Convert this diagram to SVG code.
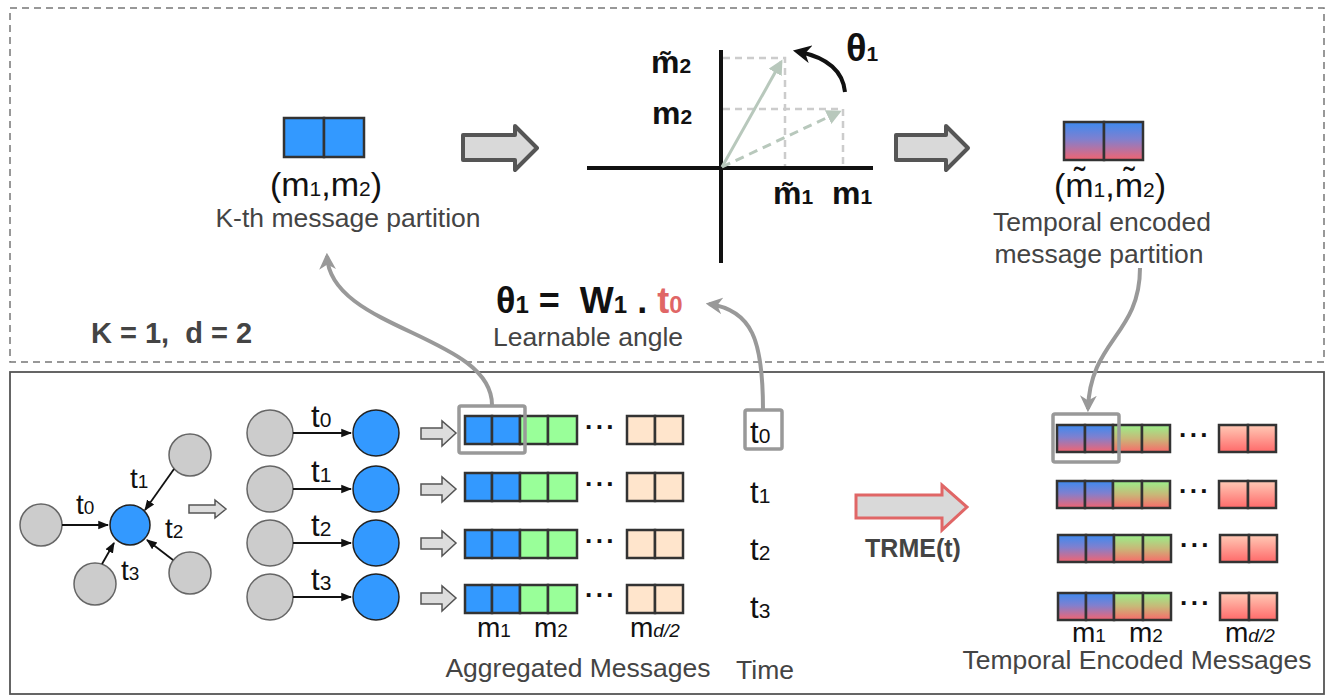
<svg xmlns="http://www.w3.org/2000/svg" width="1332" height="700" viewBox="0 0 1332 700">
<defs>
<linearGradient id="gBlue" x1="0" y1="0" x2="0" y2="1"><stop offset="0" stop-color="#3d8af0"/><stop offset="0.45" stop-color="#7f80cf"/><stop offset="1" stop-color="#f36470"/></linearGradient>
<linearGradient id="gGreen" x1="0" y1="0" x2="0" y2="1"><stop offset="0" stop-color="#99f08a"/><stop offset="0.5" stop-color="#c8b878"/><stop offset="1" stop-color="#f86a6a"/></linearGradient>
<linearGradient id="gRed" x1="0" y1="0" x2="0" y2="1"><stop offset="0" stop-color="#ffcab6"/><stop offset="1" stop-color="#ff6a6a"/></linearGradient>
<marker id="ahGray" viewBox="0 0 10 10" refX="8" refY="5" markerWidth="4.2" markerHeight="4.2" orient="auto-start-reverse"><path d="M0,0 L10,5 L0,10 L3,5 z" fill="#999"/></marker>
<marker id="ahBlack" viewBox="0 0 10 10" refX="9" refY="5" markerWidth="6" markerHeight="6" orient="auto"><path d="M0,1 L10,5 L0,9 z" fill="#111"/></marker>
<marker id="ahCurve" viewBox="0 0 10 10" refX="6" refY="5" markerWidth="4.5" markerHeight="4.5" orient="auto"><path d="M0,0 L10,5 L0,10 L3,5 z" fill="#111"/></marker>
<marker id="ahVec" viewBox="0 0 10 10" refX="8" refY="5" markerWidth="5" markerHeight="5" orient="auto"><path d="M0,0 L10,5 L0,10 z" fill="#b8c8bc"/></marker>
</defs>
<style>
text{font-family:"Liberation Sans",Arial,sans-serif}
.lbl{fill:#444;font-size:26.5px}
.math{fill:#111;font-size:34px}
.bm{fill:#111;font-size:32px;font-weight:bold}
.t{fill:#111;font-size:28px}
.tt{fill:#111;font-size:31px}
.s{font-size:19px}
.ss{font-size:21px}
.sb{font-size:21px}
.cell{stroke:#333;stroke-width:2.5}
.blue{fill:#3399ff}
.green{fill:#99ff99}
.peach{fill:#ffe5cc}
.gn{fill:#cccccc;stroke:#666;stroke-width:1.5}
.bn{fill:#3399ff;stroke:#222;stroke-width:1.5}
.edge{stroke:#111;stroke-width:1.8;fill:none;marker-end:url(#ahBlack)}
.gline{stroke:#999;stroke-width:4;fill:none}
.hl{fill:none;stroke:#999;stroke-width:3.5}
.bigarrow{fill:#d9d9d9;stroke:#555;stroke-width:4;stroke-linejoin:round}
.smallarrow{fill:#dddddd;stroke:#555;stroke-width:1.5}
.dash{stroke:#ccc;stroke-width:2.5;stroke-dasharray:7 5;fill:none}
.dots{fill:#111;font-size:26px;font-weight:bold;letter-spacing:2px}
</style>

<g id="frames">
<rect x="10" y="8" width="1314" height="354" fill="none" stroke="#777" stroke-width="1.5" stroke-dasharray="7 5"/>
<rect x="10" y="372" width="1314" height="322" fill="none" stroke="#555" stroke-width="1.8"/>
</g>

<g id="kth-partition">
<rect class="cell blue" x="284" y="118" width="40" height="39"/>
<rect class="cell blue" x="324" y="118" width="40" height="39"/>
<text x="326" y="196" text-anchor="middle" class="math">(m<tspan class="sb">1</tspan>,m<tspan class="sb">2</tspan>)</text>
<text x="348" y="227" text-anchor="middle" class="lbl">K-th message partition</text>
</g>

<g id="arrow-top-1"><polygon class="bigarrow" points="463,135 515,135 515,126 537,148 515,170 515,160 463,160"/></g>
<g id="arrow-top-2"><polygon class="bigarrow" points="896,135 946,135 946,126 968,148 946,170 946,160 896,160"/></g>

<g id="rotation-plot">
<line x1="587" y1="168" x2="873" y2="168" stroke="#111" stroke-width="4"/>
<line x1="721" y1="50" x2="721" y2="263" stroke="#111" stroke-width="4"/>
<path class="dash" d="M723 58 H785 V166 M723 109 H843 V166"/>
<line x1="722" y1="167" x2="781" y2="62" stroke="#b8c8bc" stroke-width="3" marker-end="url(#ahVec)"/>
<line x1="722" y1="167" x2="839" y2="112" stroke="#b8c8bc" stroke-width="3" stroke-dasharray="9 6" marker-end="url(#ahVec)"/>
<path d="M845 92 C843 72 828 58 800 52" stroke="#111" stroke-width="4" fill="none" marker-end="url(#ahCurve)"/>
<text x="846" y="61" class="bm" style="font-size:38px">θ<tspan class="sb">1</tspan></text>
<text x="651" y="73" class="bm">m̃<tspan class="sb">2</tspan></text>
<text x="652" y="124" class="bm">m<tspan class="sb">2</tspan></text>
<text x="773" y="204" class="bm">m̃<tspan class="sb">1</tspan></text>
<text x="832" y="204" class="bm">m<tspan class="sb">1</tspan></text>
</g>

<g id="encoded-partition">
<rect class="cell" fill="url(#gBlue)" x="1064" y="122" width="40" height="38"/>
<rect class="cell" fill="url(#gBlue)" x="1104" y="122" width="39" height="38"/>
<text x="1110" y="197" text-anchor="middle" class="math">(m̃<tspan class="sb">1</tspan>,m̃<tspan class="sb">2</tspan>)</text>
<text x="1102" y="231" text-anchor="middle" class="lbl">Temporal encoded</text>
<text x="1099" y="263" text-anchor="middle" class="lbl">message partition</text>
</g>

<g id="formula">
<text x="496" y="313" class="bm" style="font-size:36px" xml:space="preserve">θ<tspan style="font-size:24px">1</tspan> =  W<tspan style="font-size:24px">1</tspan> . <tspan fill="#e06666">t<tspan style="font-size:24px">0</tspan></tspan></text>
<text x="588" y="346" text-anchor="middle" class="lbl">Learnable angle</text>
</g>

<g id="params"><text x="91" y="343" fill="#444" style="font-size:29px;font-weight:bold" xml:space="preserve">K = 1,  d = 2</text></g>

<g id="input-graph">
<circle class="gn" cx="41" cy="525" r="21"/>
<circle class="gn" cx="190" cy="455" r="21"/>
<circle class="gn" cx="190" cy="573" r="21"/>
<circle class="gn" cx="95" cy="584" r="21"/>
<circle class="bn" cx="130" cy="525" r="20"/>
<line class="edge" x1="62" y1="525" x2="108" y2="525"/>
<line class="edge" x1="174" y1="469" x2="145" y2="510"/>
<line class="edge" x1="173" y1="560" x2="147" y2="540"/>
<line class="edge" x1="102" y1="564" x2="114" y2="543"/>
<text x="76" y="514" class="t">t<tspan class="s">0</tspan></text>
<text x="130" y="488" class="t">t<tspan class="s">1</tspan></text>
<text x="165" y="538" class="t">t<tspan class="s">2</tspan></text>
<text x="121" y="580" class="t">t<tspan class="s">3</tspan></text>
<polygon class="smallarrow" stroke-width="2" points="189,505 215,505 215,500 226,509 215,518 215,513 189,513"/>
</g>

<g id="edge-rows">
<circle class="gn" cx="270" cy="433" r="23"/><circle class="bn" cx="376" cy="433" r="23"/><line class="edge" x1="293" y1="433" x2="351" y2="433"/><text x="311" y="427" class="tt">t<tspan class="ss">0</tspan></text>
<circle class="gn" cx="270" cy="489" r="23"/><circle class="bn" cx="376" cy="489" r="23"/><line class="edge" x1="293" y1="489" x2="351" y2="489"/><text x="311" y="482" class="tt">t<tspan class="ss">1</tspan></text>
<circle class="gn" cx="270" cy="543" r="23"/><circle class="bn" cx="376" cy="543" r="23"/><line class="edge" x1="293" y1="543" x2="351" y2="543"/><text x="311" y="536" class="tt">t<tspan class="ss">2</tspan></text>
<circle class="gn" cx="270" cy="597" r="23"/><circle class="bn" cx="376" cy="597" r="23"/><line class="edge" x1="293" y1="597" x2="351" y2="597"/><text x="311" y="590" class="tt">t<tspan class="ss">3</tspan></text>
<polygon class="smallarrow" points="421,428 442,428 442,421 456,433 442,446 442,439 421,439"/>
<polygon class="smallarrow" points="421,484 442,484 442,477 456,489 442,502 442,495 421,495"/>
<polygon class="smallarrow" points="421,538 442,538 442,531 456,543 442,556 442,549 421,549"/>
<polygon class="smallarrow" points="421,593 442,593 442,586 456,598 442,611 442,604 421,604"/>
</g>

<g id="aggregated-messages">
<g>
<rect class="cell blue" x="465" y="416" width="27" height="28"/><rect class="cell blue" x="492" y="416" width="28" height="28"/>
<rect class="cell green" x="520" y="416" width="28" height="28"/><rect class="cell green" x="548" y="416" width="29" height="28"/>
<text x="601" y="436" text-anchor="middle" class="dots">···</text>
<rect class="cell peach" x="627" y="416" width="28" height="28"/><rect class="cell peach" x="655" y="416" width="28" height="28"/>
</g>
<g>
<rect class="cell blue" x="465" y="473" width="27" height="28"/><rect class="cell blue" x="492" y="473" width="28" height="28"/>
<rect class="cell green" x="520" y="473" width="28" height="28"/><rect class="cell green" x="548" y="473" width="29" height="28"/>
<text x="601" y="493" text-anchor="middle" class="dots">···</text>
<rect class="cell peach" x="627" y="473" width="28" height="28"/><rect class="cell peach" x="655" y="473" width="28" height="28"/>
</g>
<g>
<rect class="cell blue" x="465" y="530" width="27" height="28"/><rect class="cell blue" x="492" y="530" width="28" height="28"/>
<rect class="cell green" x="520" y="530" width="28" height="28"/><rect class="cell green" x="548" y="530" width="29" height="28"/>
<text x="601" y="550" text-anchor="middle" class="dots">···</text>
<rect class="cell peach" x="627" y="530" width="28" height="28"/><rect class="cell peach" x="655" y="530" width="28" height="28"/>
</g>
<g>
<rect class="cell blue" x="465" y="585" width="27" height="28"/><rect class="cell blue" x="492" y="585" width="28" height="28"/>
<rect class="cell green" x="520" y="585" width="28" height="28"/><rect class="cell green" x="548" y="585" width="29" height="28"/>
<text x="601" y="604" text-anchor="middle" class="dots">···</text>
<rect class="cell peach" x="627" y="585" width="28" height="28"/><rect class="cell peach" x="655" y="585" width="28" height="28"/>
</g>
<rect class="hl" x="459" y="406" width="66" height="47" rx="2"/>
<text x="477" y="637" class="t">m<tspan class="s">1</tspan></text>
<text x="534" y="637" class="t">m<tspan class="s">2</tspan></text>
<text x="630" y="637" class="t">m<tspan class="s" font-style="italic">d/2</tspan></text>
<text x="578" y="677" text-anchor="middle" class="lbl">Aggregated Messages</text>
</g>

<g id="time">
<rect class="hl" x="745" y="410" width="37" height="39" rx="2"/>
<text x="750" y="443" class="tt">t<tspan class="ss">0</tspan></text>
<text x="750" y="503" class="tt">t<tspan class="ss">1</tspan></text>
<text x="750" y="560" class="tt">t<tspan class="ss">2</tspan></text>
<text x="750" y="618" class="tt">t<tspan class="ss">3</tspan></text>
<text x="765" y="679" text-anchor="middle" class="lbl">Time</text>
</g>

<g id="trme">
<polygon points="856,495 942,495 942,485 967,507 942,530 942,518 856,518" fill="#d9d9d9" stroke="#e06666" stroke-width="3"/>
<text x="913" y="557" text-anchor="middle" fill="#444" style="font-size:25px;font-weight:bold">TRME(t)</text>
</g>

<g id="encoded-messages">
<g>
<rect class="cell" fill="url(#gBlue)" x="1057" y="425" width="28" height="27"/><rect class="cell" fill="url(#gBlue)" x="1085" y="425" width="28" height="27"/>
<rect class="cell" fill="url(#gGreen)" x="1113" y="425" width="29" height="27"/><rect class="cell" fill="url(#gGreen)" x="1142" y="425" width="28" height="27"/>
<text x="1195" y="444" text-anchor="middle" class="dots">···</text>
<rect class="cell" fill="url(#gRed)" x="1219" y="425" width="29" height="27"/><rect class="cell" fill="url(#gRed)" x="1248" y="425" width="28" height="27"/>
</g>
<g>
<rect class="cell" fill="url(#gBlue)" x="1057" y="481" width="28" height="27"/><rect class="cell" fill="url(#gBlue)" x="1085" y="481" width="28" height="27"/>
<rect class="cell" fill="url(#gGreen)" x="1113" y="481" width="29" height="27"/><rect class="cell" fill="url(#gGreen)" x="1142" y="481" width="28" height="27"/>
<text x="1195" y="500" text-anchor="middle" class="dots">···</text>
<rect class="cell" fill="url(#gRed)" x="1219" y="481" width="29" height="27"/><rect class="cell" fill="url(#gRed)" x="1248" y="481" width="28" height="27"/>
</g>
<g>
<rect class="cell" fill="url(#gBlue)" x="1058" y="535" width="28" height="27"/><rect class="cell" fill="url(#gBlue)" x="1086" y="535" width="28" height="27"/>
<rect class="cell" fill="url(#gGreen)" x="1114" y="535" width="29" height="27"/><rect class="cell" fill="url(#gGreen)" x="1143" y="535" width="28" height="27"/>
<text x="1196" y="554" text-anchor="middle" class="dots">···</text>
<rect class="cell" fill="url(#gRed)" x="1220" y="535" width="29" height="27"/><rect class="cell" fill="url(#gRed)" x="1249" y="535" width="28" height="27"/>
</g>
<g>
<rect class="cell" fill="url(#gBlue)" x="1058" y="593" width="28" height="27"/><rect class="cell" fill="url(#gBlue)" x="1086" y="593" width="28" height="27"/>
<rect class="cell" fill="url(#gGreen)" x="1114" y="593" width="29" height="27"/><rect class="cell" fill="url(#gGreen)" x="1143" y="593" width="28" height="27"/>
<text x="1196" y="612" text-anchor="middle" class="dots">···</text>
<rect class="cell" fill="url(#gRed)" x="1220" y="593" width="29" height="27"/><rect class="cell" fill="url(#gRed)" x="1249" y="593" width="28" height="27"/>
</g>
<rect class="hl" x="1053" y="414" width="66" height="48" rx="2"/>
<text x="1072" y="642" class="t">m<tspan class="s">1</tspan></text>
<text x="1129" y="642" class="t">m<tspan class="s">2</tspan></text>
<text x="1225" y="642" class="t">m<tspan class="s" font-style="italic">d/2</tspan></text>
<text x="1137" y="669" text-anchor="middle" class="lbl">Temporal Encoded Messages</text>
</g>

<g id="connectors">
<path class="gline" d="M492 405 C492 335 330 330 327 256" marker-end="url(#ahGray)"/>
<path class="gline" d="M763 410 C763 340 752 310 709 304" marker-end="url(#ahGray)"/>
<path class="gline" d="M1140 268 C1140 335 1090 340 1088 409" marker-end="url(#ahGray)"/>
</g>
</svg>
